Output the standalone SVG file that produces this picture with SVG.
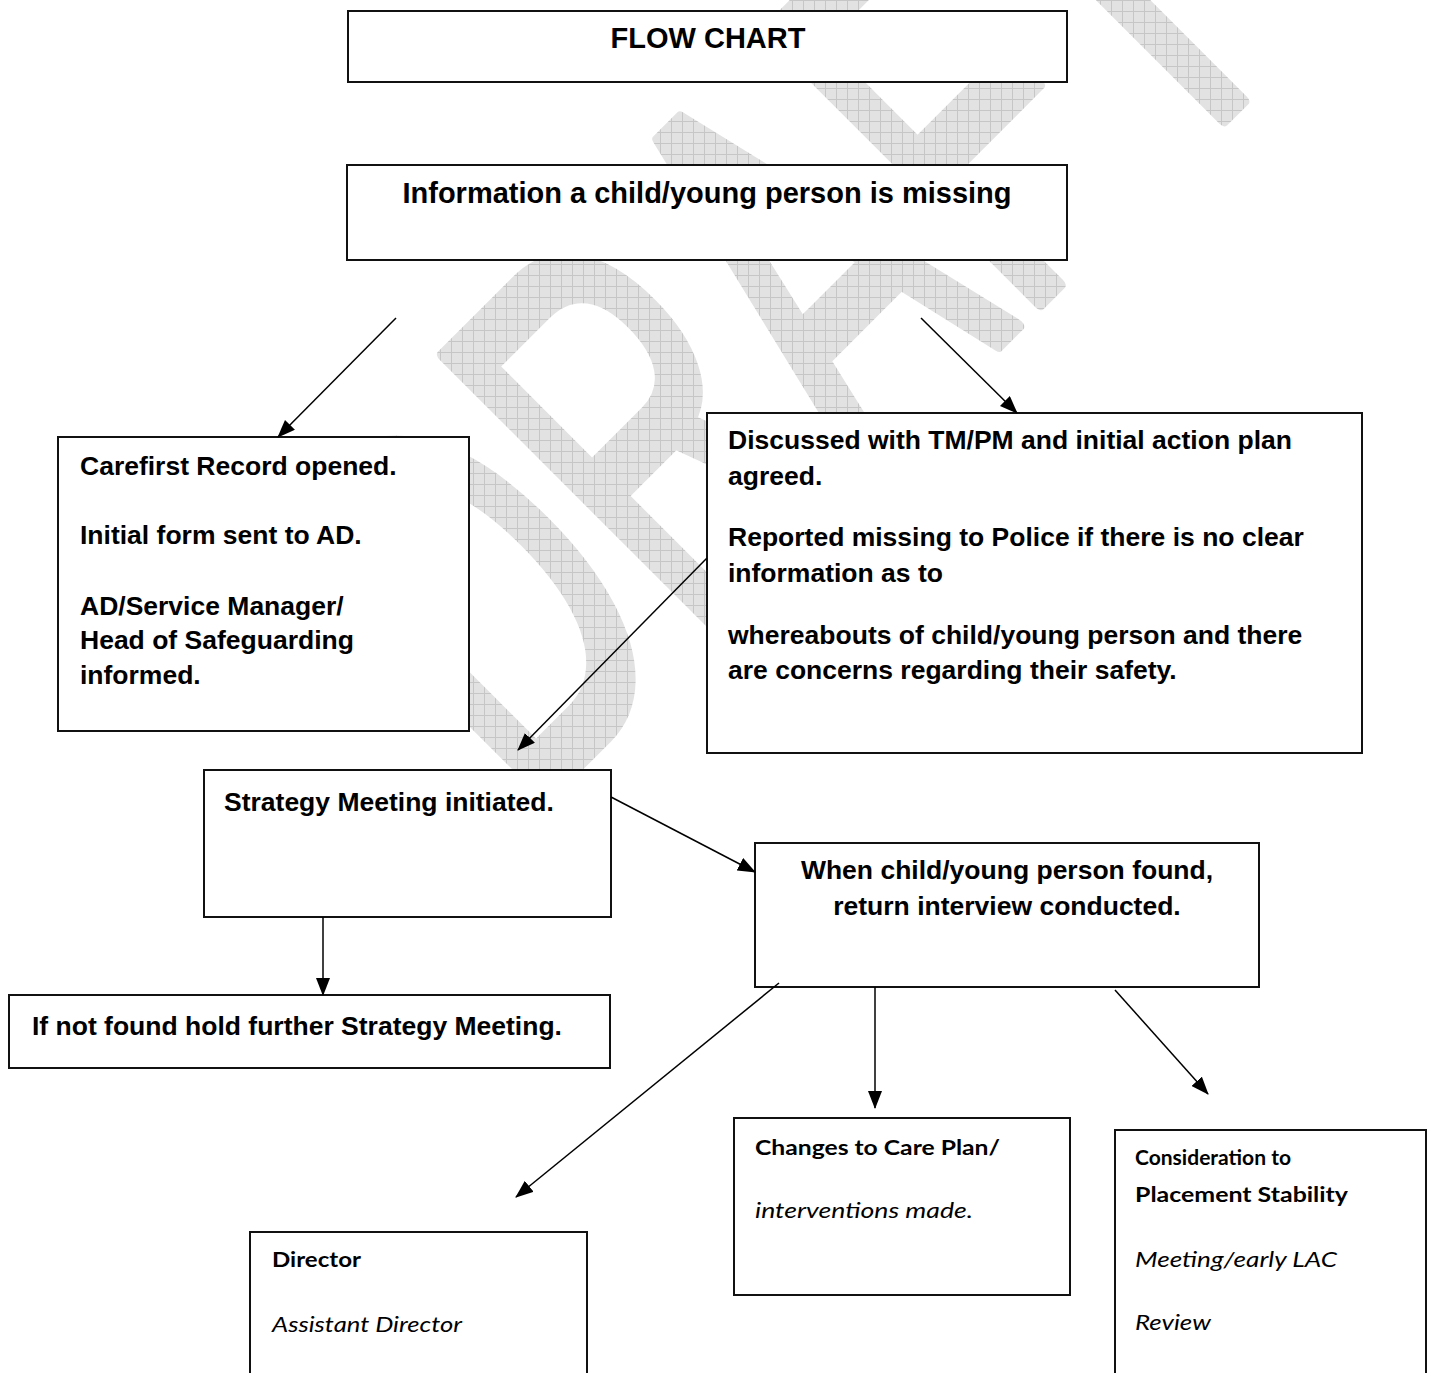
<svg xmlns="http://www.w3.org/2000/svg" width="1429" height="1373" viewBox="0 0 1429 1373">
<style>
.box{fill:#fff;stroke:#111;stroke-width:2}
.t{font-family:"Liberation Sans",Arial,sans-serif;font-weight:bold;font-size:26.5px;fill:#000}
.tt{font-family:"Liberation Sans",Arial,sans-serif;font-weight:bold;font-size:29px;fill:#000}
.cb{font-family:Lato,"Open Sans",sans-serif;font-weight:bold;font-size:21px;fill:#000}
.ci{font-family:Lato,"Open Sans",sans-serif;font-style:italic;font-size:21px;fill:#000}
.conn{stroke:#000;stroke-width:1.5;fill:none;marker-end:url(#ah)}
</style>
<defs>
<marker id="ah" markerWidth="18" markerHeight="14" refX="17" refY="7" orient="auto" markerUnits="userSpaceOnUse"><path d="M0,0 L18,7 L0,14 z" fill="#000"/></marker>
<pattern id="hatch" width="11" height="11" patternUnits="userSpaceOnUse"><rect width="11" height="11" fill="#e2e2e2"/><path d="M0 0.5H11M0.5 0V11" stroke="#c6c6c6" stroke-width="1"/></pattern>
<mask id="wmMask" maskUnits="userSpaceOnUse" x="0" y="0" width="1429" height="1373">
<text transform="rotate(-45) scale(3.3,5.59)" x="-62.1" y="169.9" font-family="Liberation Sans,Arial,sans-serif" font-size="100" fill="#fff" stroke="#fff" stroke-width="2.4" stroke-linejoin="round">DRAFT</text>
</mask>
</defs>
<rect width="1429" height="1373" fill="#fff"/>
<g id="watermark"><rect width="1429" height="1373" fill="url(#hatch)" mask="url(#wmMask)"/></g>

<g id="n-title"><rect class="box" x="348" y="11" width="719" height="71"/><text class="tt" x="708" y="48" text-anchor="middle">FLOW CHART</text></g>
<g id="n-info"><rect class="box" x="347" y="165" width="720" height="95"/><text class="tt" x="707" y="203" text-anchor="middle">Information a child/young person is missing</text></g>
<g id="n-carefirst"><rect class="box" x="58" y="437" width="411" height="294"/>
<text class="t" x="80" y="475">Carefirst Record opened.</text>
<text class="t" x="80" y="544">Initial form sent to AD.</text>
<text class="t" x="80" y="615">AD/Service Manager/</text>
<text class="t" x="80" y="649">Head of Safeguarding</text>
<text class="t" x="80" y="684">informed.</text></g>
<g id="n-discussed"><rect class="box" x="707" y="413" width="655" height="340"/>
<text class="t" x="728" y="449">Discussed with TM/PM and initial action plan</text>
<text class="t" x="728" y="485">agreed.</text>
<text class="t" x="728" y="546">Reported missing to Police if there is no clear</text>
<text class="t" x="728" y="582">information as to</text>
<text class="t" x="728" y="644">whereabouts of child/young person and there</text>
<text class="t" x="728" y="679">are concerns regarding their safety.</text></g>
<g id="n-strategy"><rect class="box" x="204" y="770" width="407" height="147"/><text class="t" x="224" y="811">Strategy Meeting initiated.</text></g>
<g id="n-when"><rect class="box" x="755" y="843" width="504" height="144"/>
<text class="t" x="1007" y="879" text-anchor="middle">When child/young person found,</text>
<text class="t" x="1007" y="915" text-anchor="middle">return interview conducted.</text></g>
<g id="n-notfound"><rect class="box" x="9" y="995" width="601" height="73"/><text class="t" x="32" y="1035">If not found hold further Strategy Meeting.</text></g>
<g id="n-changes"><rect class="box" x="734" y="1118" width="336" height="177"/>
<text class="cb" x="755" y="1155" textLength="245" lengthAdjust="spacingAndGlyphs">Changes to Care Plan/</text>
<text class="ci" x="755" y="1218" textLength="218" lengthAdjust="spacingAndGlyphs">interventions made.</text></g>
<g id="n-consideration"><rect class="box" x="1115" y="1130" width="311" height="260"/>
<text class="cb" x="1135" y="1165" textLength="156" lengthAdjust="spacingAndGlyphs">Consideration to</text>
<text class="cb" x="1135" y="1202" textLength="213" lengthAdjust="spacingAndGlyphs">Placement Stability</text>
<text class="ci" x="1135" y="1267" textLength="202" lengthAdjust="spacingAndGlyphs">Meeting/early LAC</text>
<text class="ci" x="1135" y="1330" textLength="76" lengthAdjust="spacingAndGlyphs">Review</text></g>
<g id="n-director"><rect class="box" x="250" y="1232" width="337" height="160"/>
<text class="cb" x="272" y="1267" textLength="89" lengthAdjust="spacingAndGlyphs">Director</text>
<text class="ci" x="272" y="1332" textLength="190" lengthAdjust="spacingAndGlyphs">Assistant Director</text></g>

<g id="connectors">
<line class="conn" x1="396" y1="318" x2="278" y2="437"/>
<line class="conn" x1="921" y1="318" x2="1017" y2="413"/>
<line class="conn" x1="707" y1="558" x2="518" y2="750"/>
<line class="conn" x1="611" y1="797" x2="755" y2="872"/>
<line class="conn" x1="323" y1="917" x2="323" y2="995"/>
<line class="conn" x1="779" y1="983" x2="516" y2="1197"/>
<line class="conn" x1="875" y1="987" x2="875" y2="1108"/>
<line class="conn" x1="1115" y1="990" x2="1208" y2="1094"/>
</g>
</svg>
